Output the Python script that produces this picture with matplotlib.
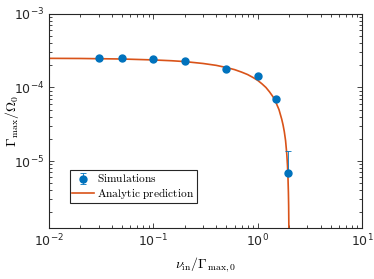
import matplotlib
matplotlib.use("Agg")
import matplotlib.pyplot as plt
from matplotlib.ticker import LogLocator, NullFormatter

plt.rcParams['mathtext.fontset'] = 'cm'
plt.rcParams['font.family'] = ['DejaVu Sans']

# simulation points
sim_x = [0.03, 0.05, 0.1, 0.2, 0.5, 1.0, 1.5, 1.95]
sim_y = [2.54e-4, 2.49e-4, 2.41e-4, 2.29e-4, 1.81e-4, 1.44e-4, 6.95e-5, 6.95e-6]
err_lo = [8e-6, 8e-6, 8e-6, 8e-6, 6e-6, 5e-6, 3e-6, 0.0]
err_hi = [8e-6, 8e-6, 8e-6, 8e-6, 6e-6, 5e-6, 3e-6, 6.95e-6]

# analytic curve, sampled from the figure
curve_x = [0.01, 0.02, 0.05, 0.1, 0.15, 0.2, 0.3, 0.4, 0.5, 0.6, 0.7, 0.8, 0.9,
           1.0, 1.1, 1.2, 1.3, 1.4, 1.5, 1.6, 1.7, 1.75, 1.8, 1.85, 1.9, 1.93,
           1.95, 1.97, 1.98, 1.99, 1.995, 1.999]
curve_y = [2.49e-4, 2.48e-4, 2.44e-4, 2.37e-4, 2.31e-4, 2.25e-4, 2.12e-4, 2.0e-4,
           1.87e-4, 1.75e-4, 1.62e-4, 1.5e-4, 1.37e-4, 1.25e-4, 1.12e-4, 1.0e-4,
           8.7e-5, 7.5e-5, 6.2e-5, 5.0e-5, 3.7e-5, 3.1e-5, 2.5e-5, 1.9e-5,
           1.25e-5, 8.7e-6, 6.2e-6, 3.7e-6, 2.5e-6, 1.25e-6, 6.2e-7, 1.2e-7]

blue = '#0072BD'
orange = '#D95319'

fig = plt.figure(figsize=(3.74, 2.79), dpi=100)
ax = fig.add_axes([0.131, 0.183, 0.837, 0.767])

ax.errorbar(sim_x, sim_y, yerr=[err_lo, err_hi], fmt='o', color=blue, ms=5,
            elinewidth=0.6, capsize=2, capthick=0.6, label=r'$\mathrm{Simulations}$',
            zorder=3)
ax.plot(curve_x, curve_y, '-', color=orange, lw=1.2,
        label=r'$\mathrm{Analytic\ prediction}$', zorder=2)

ax.set_xscale('log')
ax.set_yscale('log')
ax.set_xlim(1e-2, 1e1)
ax.set_ylim(1.23e-6, 1e-3)

ax.yaxis.set_major_locator(LogLocator(base=10, numticks=10))
ax.yaxis.set_minor_locator(LogLocator(base=10, subs=range(2, 10), numticks=10))
ax.yaxis.set_minor_formatter(NullFormatter())
ax.xaxis.set_minor_formatter(NullFormatter())

ax.tick_params(which='both', direction='in', top=True, right=True,
               colors='#262626', labelcolor='#262626', labelsize=9, width=0.6)
ax.tick_params(which='major', length=3.5)
ax.tick_params(which='minor', length=2)
for s in ax.spines.values():
    s.set_linewidth(0.8)
    s.set_color('#262626')

ax.set_xlabel(r'$\nu_{\rm in}/\Gamma_{\rm max,0}$', fontsize=10)
ax.set_ylabel(r'$\Gamma_{\rm max}/\Omega_0$', fontsize=10)
ax.yaxis.set_label_coords(-0.09, 0.5)

handles, labels = ax.get_legend_handles_labels()
order = [labels.index(r'$\mathrm{Simulations}$'), labels.index(r'$\mathrm{Analytic\ prediction}$')]
leg = ax.legend([handles[i] for i in order], [labels[i] for i in order],
                loc='lower left', bbox_to_anchor=(0.067, 0.117), borderaxespad=0,
                fancybox=False, edgecolor='#262626', fontsize=8.2, handlelength=1.9,
                handletextpad=0.3, borderpad=0.2, labelspacing=0.1, framealpha=1)
leg.get_frame().set_linewidth(0.8)

fig.savefig('out.png', dpi=100)
